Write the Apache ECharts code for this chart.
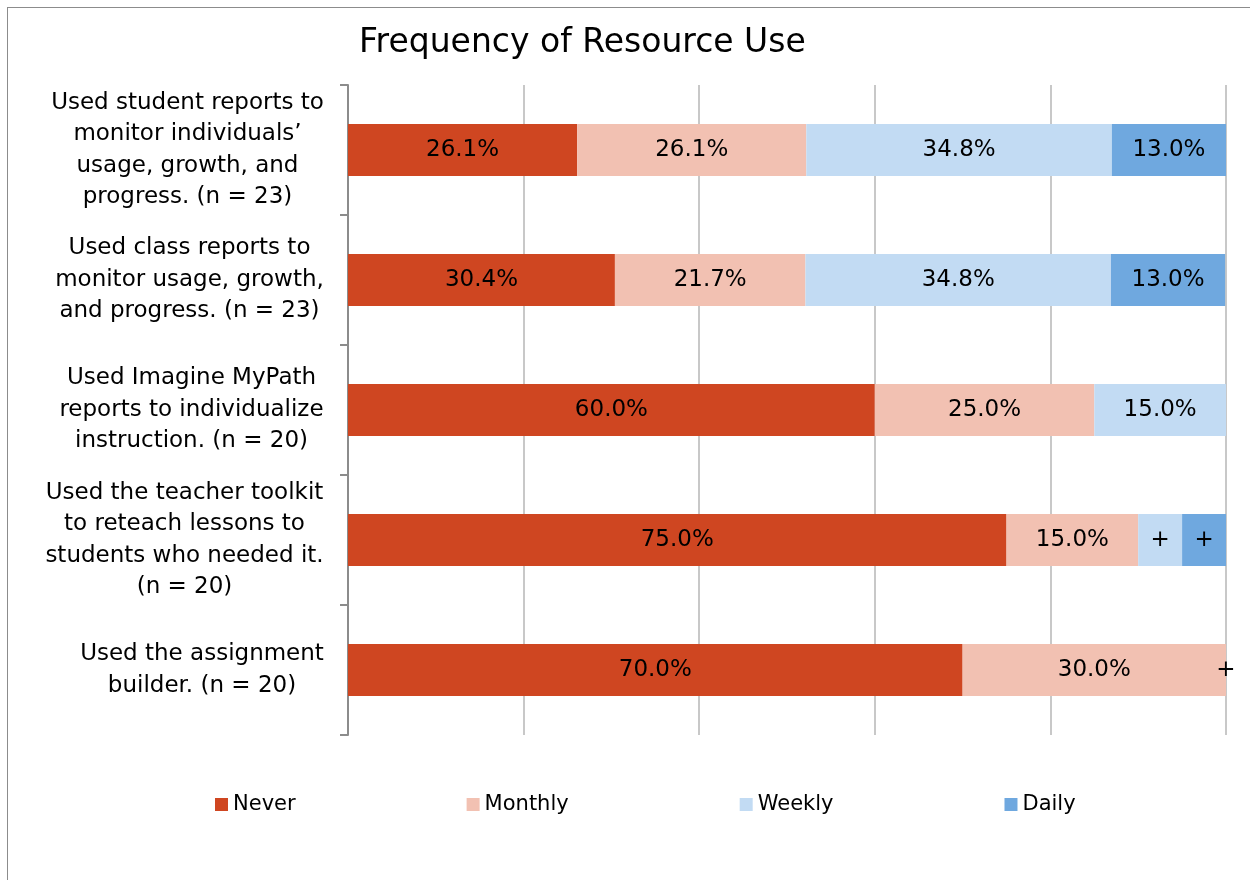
<!DOCTYPE html>
<html>
<head>
<meta charset="utf-8">
<script src="https://cdn.jsdelivr.net/npm/echarts@6/dist/echarts.min.js"></script>
<style>
  html, body { margin: 0; padding: 0; background: #fff; overflow: hidden; }
  .frame { position: absolute; left: 7px; top: 7px; width: 1300px; height: 900px; border: 1px solid #8c8c8c; }
  #chart { position: absolute; left: 0; top: 0; width: 1250px; height: 880px; }
</style>
</head>
<body>
<div class="frame"></div>
<div id="chart"></div>
<script>
const categories = [
  "Used student reports to\nmonitor individuals’\nusage, growth, and\nprogress. (n = 23)",
  "Used class reports to\nmonitor usage, growth,\nand progress. (n = 23)",
  "Used Imagine MyPath\nreports to individualize\ninstruction. (n = 20)",
  "Used the teacher toolkit\nto reteach lessons to\nstudents who needed it.\n(n = 20)",
  "Used the assignment\nbuilder. (n = 20)"
];
const seriesNames = ["Never", "Monthly", "Weekly", "Daily"];
const never = [26.1, 30.4, 60.0, 75.0, 70.0];
const monthly = [26.1, 21.7, 25.0, 15.0, 30.0];
const weekly = [34.8, 34.8, 15.0, 5.0, 0];
const daily = [13.0, 13.0, 0, 5.0, 0];
// "+" marks small shares the source did not print as numbers
const weeklyLabels = ["34.8%", "34.8%", "15.0%", "+", ""];
const dailyLabels = ["13.0%", "13.0%", "", "+", "+"];
const xTicks = [0, 20, 40, 60, 80, 100];

const FONT = "DejaVu Sans";
const LABEL_SIZE = 23;
const colors = ["#CF4621", "#F2C1B2", "#C2DBF3", "#6FA8DF"];

// measure each category label so lines can be centred inside a right-aligned block
const ctx = document.createElement("canvas").getContext("2d");
ctx.font = LABEL_SIZE + "px '" + FONT + "'";
const rich = {};
categories.forEach((c, i) => {
  const w = Math.max(...c.split("\n").map(s => ctx.measureText(s).width));
  rich["l" + i] = { width: Math.ceil(w), align: "center", fontSize: LABEL_SIZE, fontFamily: FONT, color: "#000", lineHeight: 31.5 };
});

const pct = v => v.toFixed(1) + "%";
function barSeries(name, data, labels, color) {
  return {
    name: name,
    type: "bar",
    stack: "total",
    barWidth: 52,
    itemStyle: { color: color },
    label: {
      show: true,
      position: "inside",
      fontFamily: FONT,
      fontSize: 23,
      color: "#000",
      formatter: p => labels[p.dataIndex]
    },
    emphasis: { disabled: true },
    data: data
  };
}

const chart = echarts.init(document.getElementById("chart"));
chart.setOption({
  animation: false,
  title: {
    text: "Frequency of Resource Use",
    left: 354,
    top: 22,
    textStyle: { fontFamily: FONT, fontSize: 33, fontWeight: "normal", color: "#000" }
  },
  legend: {
    data: seriesNames,
    left: 210,
    top: 789,
    itemWidth: 13,
    itemHeight: 13,
    itemGap: 171,
    icon: "rect",
    textStyle: { fontFamily: FONT, fontSize: 21, color: "#000" }
  },
  grid: { left: 348, right: 24, top: 85, bottom: 145, containLabel: false },
  xAxis: {
    type: "value",
    min: xTicks[0],
    max: xTicks[xTicks.length - 1],
    interval: 20,
    axisLabel: { show: false },
    axisLine: { show: false },
    axisTick: { show: false },
    splitLine: { lineStyle: { color: "#C8C8C8", width: 2 } }
  },
  yAxis: {
    type: "category",
    inverse: true,
    data: categories,
    axisLine: { show: true, lineStyle: { color: "#8C8C8C", width: 2 } },
    axisTick: { show: true, inside: false, length: 8, lineStyle: { color: "#8C8C8C", width: 2 } },
    axisLabel: {
      align: "right",
      margin: 24,
      rich: rich,
      formatter: (v, i) => v.split("\n").map(s => "{l" + i + "|" + s + "}").join("\n")
    }
  },
  series: [
    barSeries("Never", never, never.map(pct), colors[0]),
    barSeries("Monthly", monthly, monthly.map(pct), colors[1]),
    barSeries("Weekly", weekly, weeklyLabels, colors[2]),
    barSeries("Daily", daily, dailyLabels, colors[3])
  ]
});
</script>
</body>
</html>
